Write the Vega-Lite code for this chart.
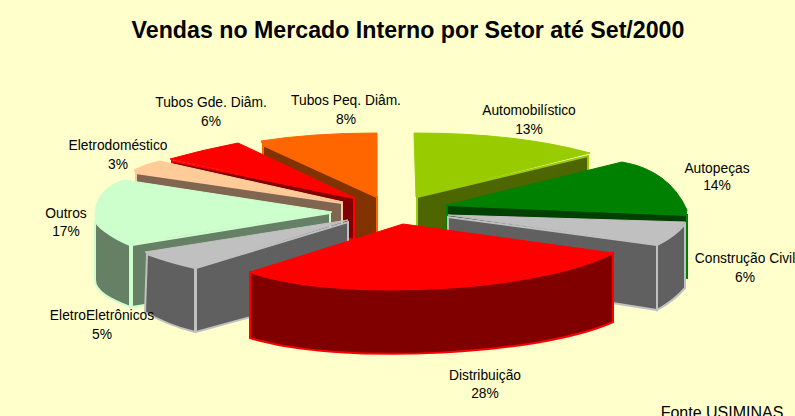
{
"$schema":"https://vega.github.io/schema/vega-lite/v6.json",
"description":"Exploded 3D-style pie of sales shares by sector. One row per sector; the wedge outlines in the shape scales are hand-traced from the reference picture, not computed from the shares.",
"width":794,"height":372,
"autosize":{"type":"none"},
"padding":{"top":44,"left":0,"right":1,"bottom":0},
"background":"#FFFFCC",
"title":{"text":"Vendas no Mercado Interno por Setor até Set/2000","font":"Liberation Sans","fontSize":23.2,"fontWeight":"bold","color":"#000000","anchor":"middle","dx":11,"offset":1},
"config":{"view":{"stroke":null}},
"params":[
{"name":"labelDx","value":{"Tubos Peq. Diâm.":-51,"Tubos Gde. Diâm.":-186,"Eletrodoméstico":-279,"Outros":-331,"EletroEletrônicos":-295,"Automobilístico":132,"Autopeças":320,"Construção Civil":348,"Distribuição":88}},
{"name":"nameDy","value":{"Tubos Peq. Diâm.":-129,"Tubos Gde. Diâm.":-127,"Eletrodoméstico":-84,"Outros":-16,"EletroEletrônicos":86,"Automobilístico":-119,"Autopeças":-61,"Construção Civil":29,"Distribuição":146}},
{"name":"shareDy","value":{"Tubos Peq. Diâm.":-110,"Tubos Gde. Diâm.":-108,"Eletrodoméstico":-65,"Outros":2,"EletroEletrônicos":105,"Automobilístico":-100,"Autopeças":-44,"Construção Civil":48,"Distribuição":164}}
],
"data":{"values":[
{"sector":"Tubos Peq. Diâm.","share":0.08},
{"sector":"Tubos Gde. Diâm.","share":0.06},
{"sector":"Eletrodoméstico","share":0.03},
{"sector":"Outros","share":0.17},
{"sector":"EletroEletrônicos","share":0.05},
{"sector":"Automobilístico","share":0.13},
{"sector":"Autopeças","share":0.14},
{"sector":"Construção Civil","share":0.06},
{"sector":"Distribuição","share":0.28}
]},
"resolve":{"scale":{"shape":"independent","fill":"independent","stroke":"independent"}},
"layer":[
{"mark":{"type":"point","filled":true,"opacity":1,"size":4,"strokeWidth":2,"strokeJoin":"miter"},
"encoding":{
"shape":{"field":"sector","type":"nominal","legend":null,"scale":{
"domain":["Tubos Peq. Diâm.","Tubos Gde. Diâm.","Eletrodoméstico","Outros","EletroEletrônicos","Automobilístico","Autopeças","Construção Civil","Distribuição"],
"range":[
"M-134 -85 L-20 -33 L-20 35 L-134 -20 Z",
"M-225 -69 L-43 -32 L-43 10 L-225 -30 Z",
"M-261 -57 L-55 -27 L-55 35 L-261 5 Z",
"M-302 -10 C-302 -5 -285 8 -267 15 L-267 77 C-285 70 -302 62 -302 50 Z M-265 15 L-67 -17 L-67 45 L-265 77 Z",
"M-250 24 Q-228 32 -202 38 L-202 102 Q-230 95 -252 82 Z M-201 38 L-49 -8 L-49 60 L-201 102 Z",
"M20 -33 L191 -74 L191 -10 L20 31 Z",
"M50 -25 L290 -15 L290 48 L50 40 Z",
"M51 -13 L260 15 L260 80 L51 47 Z M260 15 Q278 6 288 -6 L288 58 Q278 70 260 80 Z",
"M-147 42 C-60 72 140 62 216 23 L216 92 C140 126 -60 135 -147 108 Z"
]}},
"fill":{"field":"sector","type":"nominal","legend":null,"scale":{
"domain":["Tubos Peq. Diâm.","Tubos Gde. Diâm.","Eletrodoméstico","Outros","EletroEletrônicos","Automobilístico","Autopeças","Construção Civil","Distribuição"],
"range":["#803300","#800000","#806650","#668066","#606060","#4D6600","#004000","#606060","#800000"]}},
"stroke":{"field":"sector","type":"nominal","legend":null,"scale":{
"domain":["Tubos Peq. Diâm.","Tubos Gde. Diâm.","Eletrodoméstico","Outros","EletroEletrônicos","Automobilístico","Autopeças","Construção Civil","Distribuição"],
"range":["#FF6600","#FF0000","#FFCC99","#CCFFCC","#C0C0C0","#99CC00","#008000","#C0C0C0","#FF0000"]}}
}},
{"mark":{"type":"point","filled":true,"opacity":1,"size":4,"strokeWidth":1,"strokeJoin":"miter"},
"encoding":{
"shape":{"field":"sector","type":"nominal","legend":null,"scale":{
"domain":["Tubos Peq. Diâm.","Tubos Gde. Diâm.","Eletrodoméstico","Outros","EletroEletrônicos","Automobilístico","Autopeças","Construção Civil","Distribuição"],
"range":[
"M-20 -33 L-20 -97 Q-85 -97 -136 -89 L-134 -85 Z",
"M-42 -32 L-159 -87 Q-195 -80 -227 -71 Z",
"M-54 -28 L-237 -69 Q-252 -66 -263 -60 L-261 -57 Z",
"M-65 -18 L-272 -50 C-295 -44 -302 -28 -302 -15 C-302 -5 -285 8 -267 14 Z",
"M-49 -10 L-252 22 Q-230 31 -202 38 Z",
"M17 -97 Q120 -97 193 -77 L19 -33 Z",
"M50 -25 L225 -68 Q272 -60 290 -20 L289 -15 Z",
"M51 -15 L288 -8 Q278 6 260 15 Z",
"M6 -6 L216 23 C140 62 -60 72 -147 42 Z"
]}},
"fill":{"field":"sector","type":"nominal","legend":null,"scale":{
"domain":["Tubos Peq. Diâm.","Tubos Gde. Diâm.","Eletrodoméstico","Outros","EletroEletrônicos","Automobilístico","Autopeças","Construção Civil","Distribuição"],
"range":["#FF6600","#FF0000","#FFCC99","#CCFFCC","#C0C0C0","#99CC00","#008000","#C0C0C0","#FF0000"]}},
"stroke":{"field":"sector","type":"nominal","legend":null,"scale":{
"domain":["Tubos Peq. Diâm.","Tubos Gde. Diâm.","Eletrodoméstico","Outros","EletroEletrônicos","Automobilístico","Autopeças","Construção Civil","Distribuição"],
"range":["#FF6600","#FF0000","#FFCC99","#CCFFCC","#C0C0C0","#99CC00","#008000","#C0C0C0","#FF0000"]}}
}},
{"mark":{"type":"text","font":"Liberation Sans","fontSize":13.8,"color":"#000000","baseline":"middle","align":"center","dx":{"expr":"labelDx[datum.sector]"},"dy":{"expr":"nameDy[datum.sector]"}},
"encoding":{"text":{"field":"sector","type":"nominal"}}},
{"mark":{"type":"text","font":"Liberation Sans","fontSize":13.8,"color":"#000000","baseline":"middle","align":"center","dx":{"expr":"labelDx[datum.sector]"},"dy":{"expr":"shareDy[datum.sector]"}},
"encoding":{"text":{"field":"share","type":"quantitative","format":".0%"}}},
{"data":{"values":[{"note":"Fonte USIMINAS"}]},
"mark":{"type":"text","font":"Liberation Sans","fontSize":16,"color":"#000000","baseline":"middle","align":"center","dx":325,"dy":183},
"encoding":{"text":{"field":"note","type":"nominal"}}}
]
}
